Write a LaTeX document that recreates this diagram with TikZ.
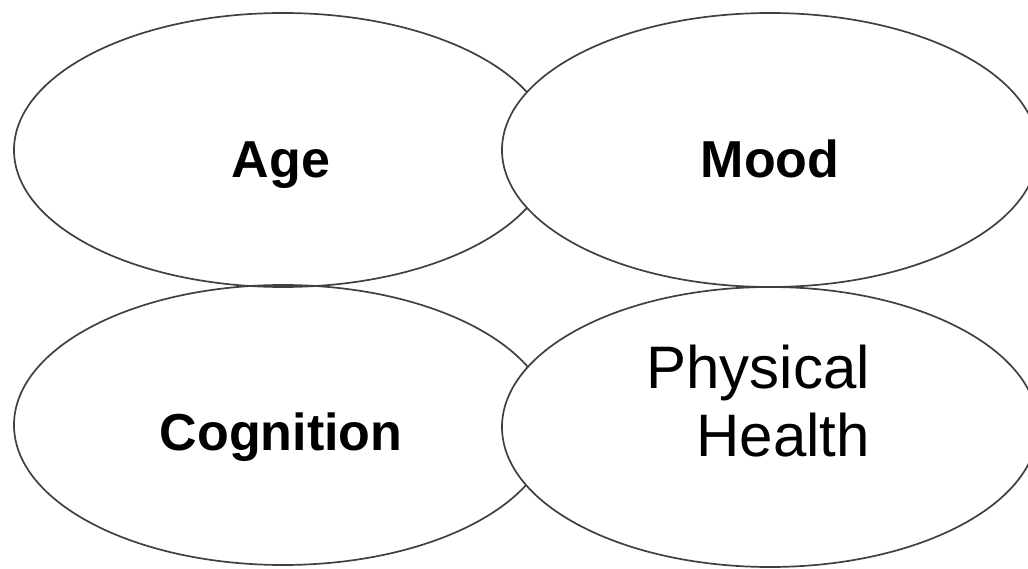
\documentclass[tikz,border=0pt]{standalone}
\usepackage{fontspec}
\setmainfont{Liberation Sans}
\usetikzlibrary{shapes.geometric}
\begin{document}
\begin{tikzpicture}[x=1pt,y=-1pt,
  oval/.style={ellipse,inner sep=0pt,outer sep=0pt,line width=1.7pt,draw=black!75},
  ovalfill/.style={ellipse,inner sep=0pt,outer sep=0pt,fill=white},
  boldlabel/.style={anchor=base,inner sep=0pt,font=\fontsize{52}{60}\selectfont\bfseries},
  plainlabel/.style={anchor=base east,inner sep=0pt,font=\fontsize{60}{68}\selectfont}]
\useasboundingbox (0,0) rectangle (1028,569);
% left ellipses
\node[oval,minimum width=538pt,minimum height=274pt] (tl) at (283,150) {};
\node[oval,minimum width=538pt,minimum height=280pt] (bl) at (283,425) {};
% right ellipses (white fill hides parts of left ones)
\node[ovalfill,minimum width=536pt,minimum height=274pt] (trf) at (770,150) {};
\node[ovalfill,minimum width=536pt,minimum height=280pt] (brf) at (770,427) {};
\node[oval,minimum width=536pt,minimum height=274pt] (tr) at (770,150) {};
\node[oval,minimum width=536pt,minimum height=280pt] (br) at (770,427) {};
% labels
\node[boldlabel] (age) at (281,178) {Age};
\node[boldlabel] (mood) at (770,178) {Mood};
\node[boldlabel] (cog) at (281,450) {Cognition};
\node[plainlabel] (phys) at (870,388) {Physical};
\node[plainlabel] (health) at (870,456) {Health};
\end{tikzpicture}
\end{document}
